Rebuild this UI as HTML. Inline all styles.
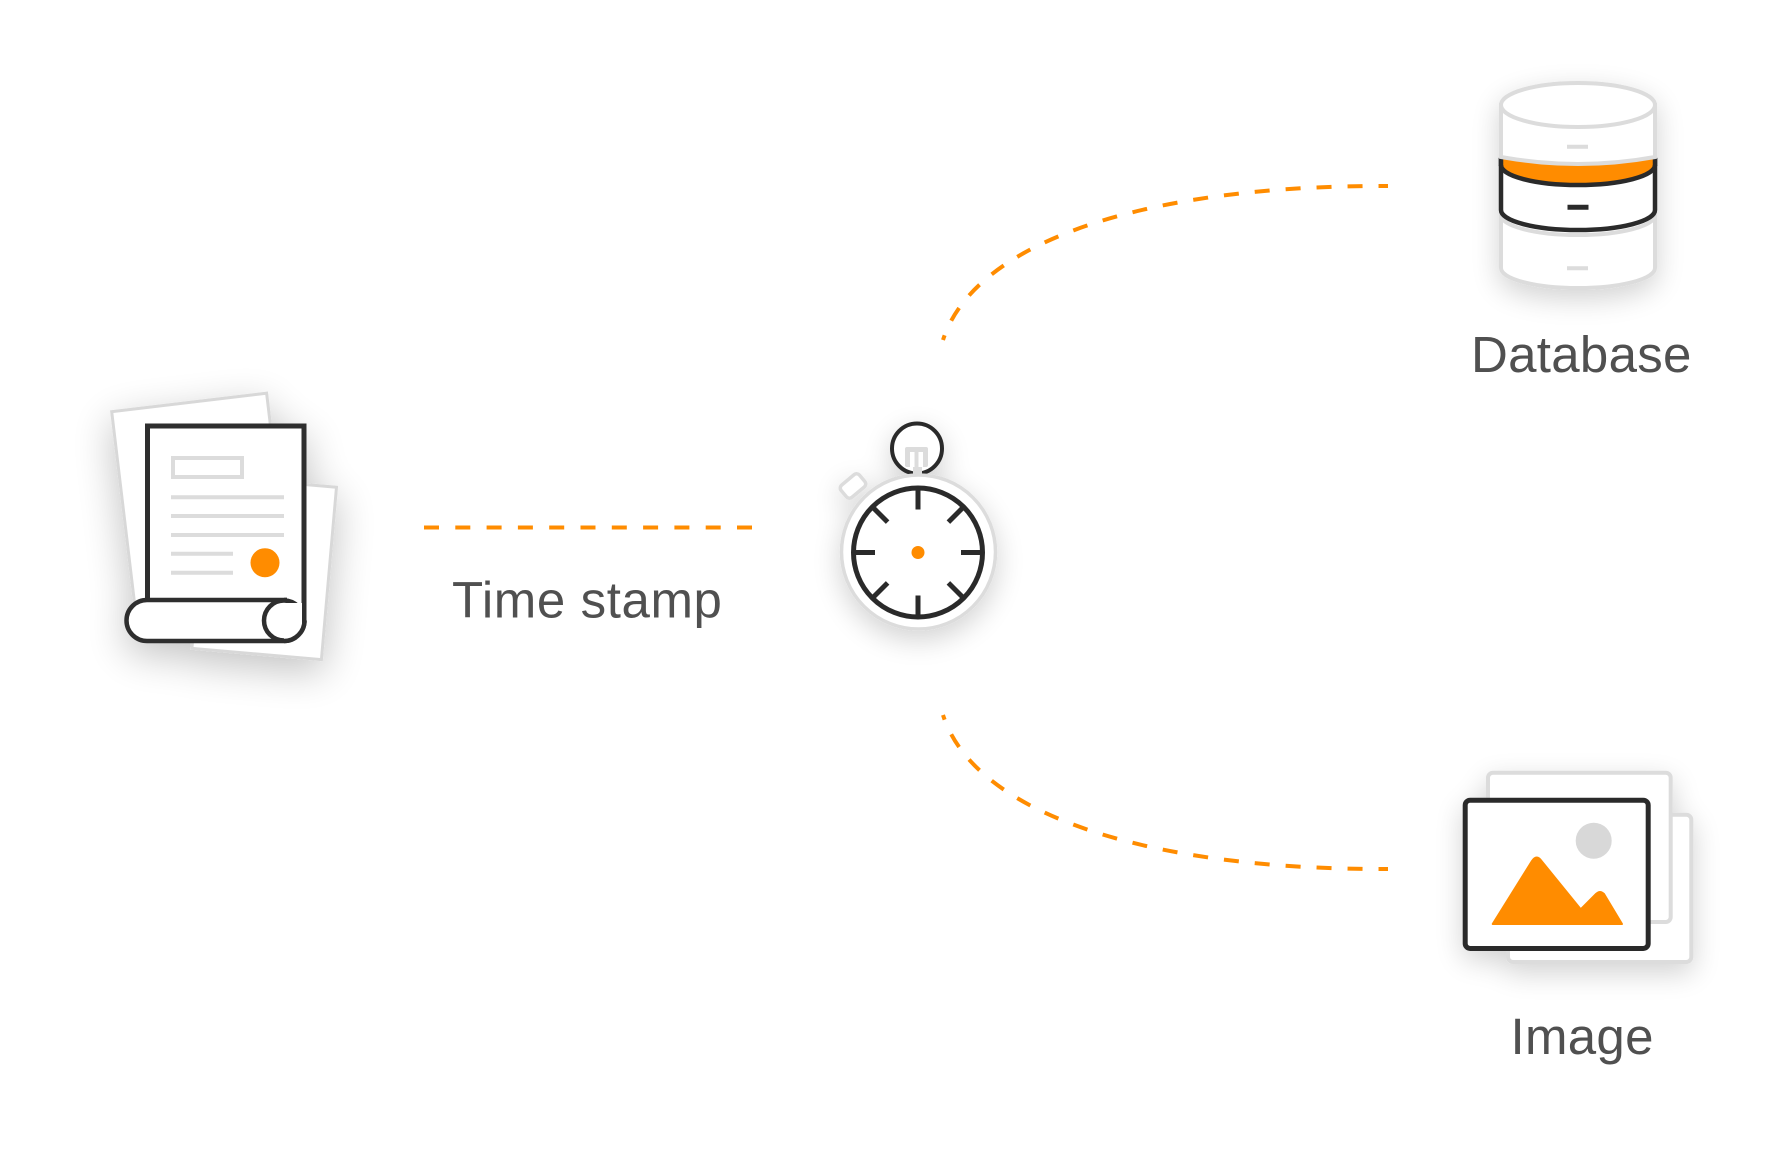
<!DOCTYPE html>
<html>
<head>
<meta charset="utf-8">
<style>
  html,body{margin:0;padding:0;background:#ffffff;}
  svg{display:block;}
  text{font-family:"Liberation Sans", sans-serif; fill:#505050;}
</style>
</head>
<body>
<svg width="1780" height="1174" viewBox="0 0 1780 1174" xmlns="http://www.w3.org/2000/svg">
  <defs>
    <filter id="sh" x="-70%" y="-70%" width="240%" height="240%">
      <feGaussianBlur in="SourceAlpha" stdDeviation="20"/>
      <feOffset dy="12" result="b"/>
      <feComponentTransfer><feFuncA type="linear" slope="0.24"/></feComponentTransfer>
      <feMerge><feMergeNode/><feMergeNode in="SourceGraphic"/></feMerge>
    </filter>
    <filter id="sh2" x="-70%" y="-70%" width="240%" height="240%">
      <feGaussianBlur in="SourceAlpha" stdDeviation="14"/>
      <feOffset dy="9"/>
      <feComponentTransfer><feFuncA type="linear" slope="0.18"/></feComponentTransfer>
      <feMerge><feMergeNode/><feMergeNode in="SourceGraphic"/></feMerge>
    </filter>
  </defs>

  <!-- connectors -->
  <line x1="424" y1="527.5" x2="752" y2="527.5" stroke="#ff8c00" stroke-width="4" stroke-dasharray="15 16.3"/>
  <path d="M943,340 C975,240 1150,185 1388,186" fill="none" stroke="#ff8c00" stroke-width="4" stroke-dasharray="15 16" stroke-dashoffset="10"/>
  <path d="M943,715 C975,815 1150,870 1388,869" fill="none" stroke="#ff8c00" stroke-width="4" stroke-dasharray="15 16" stroke-dashoffset="10"/>

  <!-- Document -->
  <g filter="url(#sh)">
    <rect x="0" y="0" width="156" height="205" transform="translate(111.7,411.7) rotate(-6.8)" fill="#fff" stroke="#d8d8d8" stroke-width="3"/>
    <rect x="-65" y="-86.5" width="130" height="173" transform="translate(264.2,567.8) rotate(5)" fill="#fff" stroke="#d8d8d8" stroke-width="3"/>
    <rect x="147.5" y="426" width="156.5" height="180" fill="#fff"/>
    <path d="M147.5,602 V426 H304 V621" fill="none" stroke="#2e2e2e" stroke-width="5"/>
    <path d="M287,600 H147 A20.5,20.5 0 0 0 147,641 H284 A20.5,20.5 0 0 0 304.5,620.5" fill="#fff" stroke="#2e2e2e" stroke-width="4.5" stroke-linejoin="round"/>
    <circle cx="284" cy="620.5" r="20" fill="#fff" stroke="#2e2e2e" stroke-width="4.5"/>
    <rect x="284" y="603" width="18" height="36" fill="#fff"/>
    <path d="M284,641 A20.5,20.5 0 0 0 304.5,620.5" fill="none" stroke="#2e2e2e" stroke-width="4.5"/>
    <path d="M287,600 L284,600" stroke="#2e2e2e" stroke-width="4.5"/>
    <rect x="173" y="458" width="69" height="19" fill="none" stroke="#dcdcdc" stroke-width="4"/>
    <g stroke="#dcdcdc" stroke-width="4">
      <line x1="171" y1="497.3" x2="284" y2="497.3"/>
      <line x1="171" y1="516" x2="284" y2="516"/>
      <line x1="171" y1="535" x2="284" y2="535"/>
      <line x1="171" y1="553.7" x2="233" y2="553.7"/>
      <line x1="171" y1="572.7" x2="233" y2="572.7"/>
    </g>
    <circle cx="265" cy="562.7" r="14.5" fill="#ff8c00"/>
  </g>

  <text x="452" y="617.5" font-size="51" letter-spacing="0.6">Time stamp</text>

  <!-- Stopwatch -->
  <g filter="url(#sh2)">
    <rect x="-12" y="-8" width="24" height="16" rx="4" transform="translate(853,486) rotate(-40)" fill="#fff" stroke="#dcdcdc" stroke-width="3.5"/>
    <circle cx="917" cy="448.5" r="25" fill="#fff" stroke="#2b2b2b" stroke-width="4"/>
    <rect x="913" y="465" width="9" height="12" fill="#dcdcdc"/>
    <rect x="905" y="447" width="23" height="20" rx="2" fill="#dcdcdc"/>
    <rect x="910" y="452" width="4.5" height="15" fill="#fff"/>
    <rect x="918.5" y="452" width="4.5" height="15" fill="#fff"/>
    <circle cx="918.5" cy="552" r="77" fill="#fff" stroke="#dcdcdc" stroke-width="3.5"/>
    <circle cx="918" cy="552.5" r="64.5" fill="#fff" stroke="#2b2b2b" stroke-width="5"/>
    <g stroke="#2b2b2b" stroke-width="5" transform="translate(918,552.5)">
      <line x1="0" y1="-63" x2="0" y2="-43"/>
      <line x1="0" y1="63" x2="0" y2="43"/>
      <line x1="-63" y1="0" x2="-43" y2="0"/>
      <line x1="63" y1="0" x2="43" y2="0"/>
      <line x1="44.5" y1="-44.5" x2="30.4" y2="-30.4"/>
      <line x1="-44.5" y1="-44.5" x2="-30.4" y2="-30.4"/>
      <line x1="44.5" y1="44.5" x2="30.4" y2="30.4"/>
      <line x1="-44.5" y1="44.5" x2="-30.4" y2="30.4"/>
    </g>
    <circle cx="918" cy="552.5" r="6.5" fill="#ff8c00"/>
  </g>

  <!-- Database -->
  <g filter="url(#sh2)">
    <path d="M1501,212 V268 A77,20 0 0 0 1655,268 V212 Z" fill="#fff" stroke="#dcdcdc" stroke-width="4"/>
    <path d="M1501,215 A77,20 0 0 0 1655,215" fill="none" stroke="#dcdcdc" stroke-width="4"/>
    <line x1="1567" y1="268.3" x2="1588" y2="268.3" stroke="#dcdcdc" stroke-width="4"/>
    <path d="M1501,160 V210 A77,20 0 0 0 1655,210 V160 Z" fill="#fff" stroke="#2b2b2b" stroke-width="4.5"/>
    <path d="M1501,158 Q1578,172 1655,158 V165 A77,20 0 0 1 1501,165 Z" fill="#ff8c00"/>
    <path d="M1655,165 A77,20 0 0 1 1501,165" fill="none" stroke="#2b2b2b" stroke-width="4.5"/>
    <path d="M1501,158 V166 M1655,158 V166" stroke="#2b2b2b" stroke-width="4.5"/>
    <line x1="1567.5" y1="207.3" x2="1588.5" y2="207.3" stroke="#2b2b2b" stroke-width="5"/>
    <path d="M1501,105 V157 Q1578,171 1655,157 V105 Z" fill="#fff" stroke="#dcdcdc" stroke-width="4"/>
    <ellipse cx="1578" cy="105" rx="77" ry="22" fill="#fff" stroke="#dcdcdc" stroke-width="4"/>
    <line x1="1567" y1="146.7" x2="1588" y2="146.7" stroke="#dcdcdc" stroke-width="4"/>
  </g>
  <text x="1471" y="372" font-size="51" letter-spacing="0.3">Database</text>

  <!-- Image -->
  <g filter="url(#sh2)">
    <rect x="1508" y="814.7" width="183.3" height="147.3" rx="5" fill="#fff" stroke="#dcdcdc" stroke-width="4"/>
    <rect x="1488" y="772.7" width="182.7" height="149.3" rx="5" fill="#fff" stroke="#dcdcdc" stroke-width="4"/>
    <rect x="1465.2" y="800.2" width="183" height="148.3" rx="5" fill="#fff" stroke="#2b2b2b" stroke-width="5"/>
    <circle cx="1593.7" cy="840.7" r="18" fill="#d8d8d8"/>
    <path d="M1492.7,924 L1532,861 Q1536.7,854 1541.5,861 L1580.7,909.3 L1596,894 Q1600,890 1604,894 L1622,924 Z" fill="#ff8c00" stroke="#ff8c00" stroke-width="2" stroke-linejoin="round"/>
  </g>
  <text x="1510.5" y="1054" font-size="51" letter-spacing="0.3">Image</text>
</svg>
</body>
</html>
